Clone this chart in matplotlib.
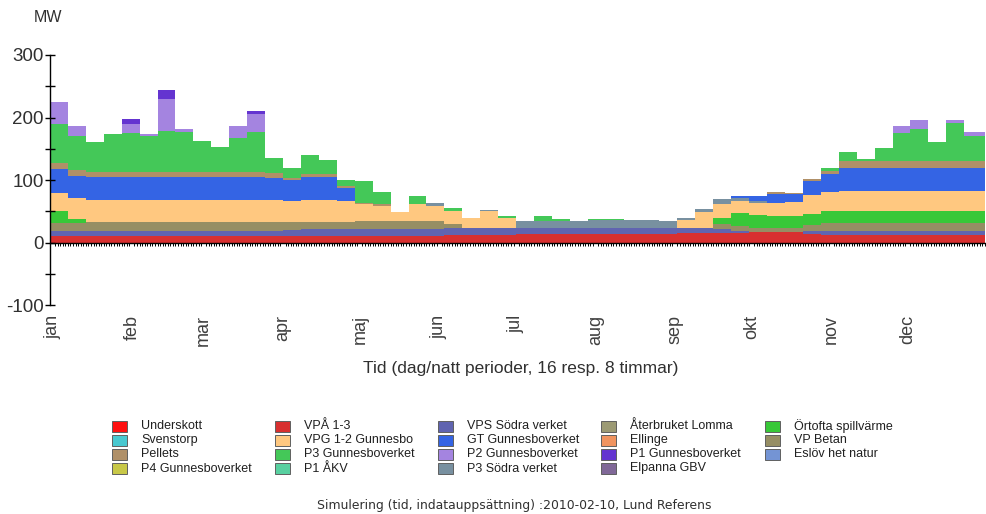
import numpy as np
import matplotlib
matplotlib.use("Agg")
import matplotlib.pyplot as plt
from matplotlib import font_manager
from matplotlib.patches import Rectangle

# weekly production per unit (MW), stacked bottom to top
vpa_1_3 = [10, 10, 10, 10, 10, 10, 10, 10, 10, 10, 10, 10, 10, 10, 11, 11, 11, 11, 11, 11, 11, 11, 12, 12, 12, 12,
           14, 14, 14, 14, 14, 14, 14, 14, 14, 15, 15, 15, 15, 17, 17, 17, 13, 12, 12, 12, 12, 12, 12, 12, 12, 12]
vps_sodra = [9, 9, 9, 9, 9, 9, 9, 9, 9, 9, 9, 9, 9, 10, 10, 10, 10, 11, 11, 11, 11, 11, 12, 12, 12, 12,
             9, 9, 9, 9, 9, 9, 9, 9, 9, 9, 9, 7, 4, 0, 0, 0, 5, 7, 7, 7, 7, 7, 7, 7, 7, 7]
vp_betan = [13, 13, 14, 14, 14, 14, 14, 14, 14, 14, 14, 14, 14, 13, 12, 12, 12, 12, 12, 12, 12, 12, 5, 0, 0, 0,
            0, 0, 0, 0, 0, 0, 0, 0, 0, 0, 0, 8, 8, 7, 7, 7, 10, 13, 13, 13, 13, 13, 13, 13, 13, 13]
ortofta = [18, 6, 0, 0, 0, 0, 0, 0, 0, 0, 0, 0, 0, 0, 0, 0, 0, 0, 0, 0, 0, 0, 0, 0, 0, 0,
           0, 0, 0, 0, 0, 0, 0, 0, 0, 0, 0, 10, 20, 20, 19, 19, 18, 19, 19, 19, 19, 19, 19, 19, 19, 19]
vpg_1_2 = [30, 33, 35, 35, 35, 35, 35, 35, 35, 35, 35, 35, 35, 33, 35, 35, 34, 27, 25, 15, 27, 24, 22, 16, 26, 16,
           0, 0, 0, 0, 0, 0, 0, 0, 0, 12, 25, 22, 20, 20, 20, 22, 30, 30, 32, 32, 32, 32, 32, 32, 32, 32]
p3_sodra = [0, 0, 0, 0, 0, 0, 0, 0, 0, 0, 0, 0, 0, 0, 0, 0, 0, 0, 0, 0, 0, 6, 0, 0, 2, 0,
            12, 12, 12, 12, 13, 13, 13, 13, 12, 3, 5, 8, 5, 3, 0, 0, 0, 0, 0, 0, 0, 0, 0, 0, 0, 0]
gt_gbv = [37, 36, 37, 37, 37, 37, 37, 37, 37, 37, 37, 37, 36, 34, 37, 37, 20, 0, 0, 0, 0, 0, 0, 0, 0, 0,
          0, 0, 0, 0, 0, 0, 0, 0, 0, 0, 0, 0, 3, 8, 15, 12, 22, 28, 37, 37, 37, 37, 37, 37, 37, 37]
pellets = [10, 9, 8, 8, 8, 8, 8, 8, 8, 8, 8, 8, 7, 4, 5, 5, 3, 3, 2, 0, 0, 0, 0, 0, 0, 0,
           0, 0, 0, 0, 0, 0, 0, 0, 0, 0, 0, 0, 0, 0, 3, 3, 4, 5, 11, 11, 11, 11, 11, 11, 11, 11]
p3_gbv = [63, 55, 48, 60, 62, 58, 66, 64, 50, 40, 55, 64, 25, 15, 30, 22, 10, 35, 20, 0, 13, 0, 4, 0, 0, 2,
          0, 8, 3, 0, 2, 1, 0, 0, 0, 0, 0, 0, 0, 0, 0, 0, 0, 5, 14, 2, 20, 45, 50, 30, 60, 40]
p2_gbv = [35, 15, 0, 0, 14, 3, 50, 5, 0, 0, 18, 28, 0, 0, 0, 0, 0, 0, 0, 0, 0, 0, 0, 0, 0, 0,
          0, 0, 0, 0, 0, 0, 0, 0, 0, 0, 0, 0, 0, 0, 0, 0, 0, 0, 0, 0, 0, 10, 15, 0, 5, 6]
p1_gbv = [0, 0, 0, 0, 8, 0, 15, 0, 0, 0, 0, 5, 0, 0, 0, 0, 0, 0, 0, 0, 0, 0, 0, 0, 0, 0,
          0, 0, 0, 0, 0, 0, 0, 0, 0, 0, 0, 0, 0, 0, 0, 0, 0, 0, 0, 0, 0, 0, 0, 0, 0, 0]

months = ["jan", "feb", "mar", "apr", "maj", "jun", "jul", "aug", "sep", "okt", "nov", "dec"]
month_days = [31, 28, 31, 30, 31, 30, 31, 31, 30, 31, 30, 31]

legend_names = [
    "Underskott", "Svenstorp", "Pellets", "P4 Gunnesboverket",
    "VPÅ 1-3", "VPG 1-2 Gunnesbo", "P3 Gunnesboverket", "P1 ÅKV",
    "VPS Södra verket", "GT Gunnesboverket", "P2 Gunnesboverket", "P3 Södra verket",
    "Återbruket Lomma", "Ellinge", "P1 Gunnesboverket", "Elpanna GBV",
    "Örtofta spillvärme", "VP Betan", "Eslöv het natur",
]
colors = {
    "Underskott": "#ff1010", "Svenstorp": "#48c8d0", "Pellets": "#b09068", "P4 Gunnesboverket": "#c8c848",
    "VPÅ 1-3": "#d83030", "VPG 1-2 Gunnesbo": "#ffc880", "P3 Gunnesboverket": "#44c858", "P1 ÅKV": "#58d0a0",
    "VPS Södra verket": "#6064b0", "GT Gunnesboverket": "#3464e4", "P2 Gunnesboverket": "#a484e0",
    "P3 Södra verket": "#7890a0", "Återbruket Lomma": "#9c9a74", "Ellinge": "#f09460",
    "P1 Gunnesboverket": "#6434d0", "Elpanna GBV": "#806898", "Örtofta spillvärme": "#38c838",
    "VP Betan": "#968e64", "Eslöv het natur": "#7494d4",
}

stack = [
    ("VPÅ 1-3", vpa_1_3), ("VPS Södra verket", vps_sodra), ("VP Betan", vp_betan),
    ("Örtofta spillvärme", ortofta), ("VPG 1-2 Gunnesbo", vpg_1_2), ("P3 Södra verket", p3_sodra),
    ("GT Gunnesboverket", gt_gbv), ("Pellets", pellets), ("P3 Gunnesboverket", p3_gbv),
    ("P2 Gunnesboverket", p2_gbv), ("P1 Gunnesboverket", p1_gbv),
]

installed = {f.name for f in font_manager.fontManager.ttflist}
main_font = "Liberation Sans" if "Liberation Sans" in installed else "DejaVu Sans"
plt.rcParams["font.family"] = [main_font, "DejaVu Sans"]
plt.rcParams["axes.unicode_minus"] = False

fig = plt.figure(figsize=(9.86, 5.14), dpi=100)
ax = fig.add_axes([0.0507, 0.4066, 0.948, 0.4864])

edges = np.append(np.arange(0, 358, 7), 365)
base = np.zeros(len(vpa_1_3))
for name, vals in stack:
    vals = np.asarray(vals, dtype=float)
    top = base + vals
    ax.fill_between(edges, np.append(base, base[-1]), np.append(top, top[-1]),
                    step="post", color=colors[name], linewidth=0)
    base = top

ax.set_xlim(0, 365)
ax.set_ylim(-100, 300)
for side in ("top", "right"):
    ax.spines[side].set_visible(False)
ax.spines["bottom"].set_position(("data", 0))
ax.spines["bottom"].set_linewidth(1.0)
ax.spines["left"].set_linewidth(1.0)

starts = np.concatenate([[0], np.cumsum(month_days)[:-1]]) + 1
ax.set_xticks(starts, months, rotation=90, fontsize=13, va="top")
ax.set_xticks(np.arange(0, 366, 1), minor=True)
ax.tick_params(axis="x", which="major", length=0, pad=52, labelcolor="#404040")
ax.tick_params(axis="x", which="minor", length=2.5, width=0.7, direction="out")

ax.set_yticks([-100, 0, 100, 200, 300])
ax.set_yticks([-50, 50, 150, 250], minor=True)
ax.tick_params(axis="y", which="both", direction="inout", length=7, width=1.0)
ax.tick_params(axis="y", which="major", labelsize=13.5, pad=1, labelcolor="#303030")

fig.text(0.049, 0.965, "MW", ha="center", va="center", fontsize=11.5, color="#303030")
fig.text(0.5285, 0.284, "Tid (dag/natt perioder, 16 resp. 8 timmar)", ha="center", va="center",
         fontsize=12.5, color="#303030")

# legend grid, filled column by column
col_x = [112, 275, 438, 601, 765]
row_y = [426, 440, 454, 468.5]
W, H = 986, 514
for i, name in enumerate(legend_names):
    cx, ry = col_x[i // 4], row_y[i % 4]
    fig.add_artist(Rectangle((cx / W, 1 - (ry + 5.5) / H), 15 / W, 11 / H, transform=fig.transFigure,
                             facecolor=colors[name], edgecolor="#606060", linewidth=0.7))
    fig.text((cx + 29) / W, 1 - ry / H, name, ha="left", va="center", fontsize=9, color="#202020")

fig.text(0.522, 1 - 506 / H, "Simulering (tid, indatauppsättning) :2010-02-10, Lund Referens",
         ha="center", va="center", fontsize=8.9, family="DejaVu Sans", color="#303030")

fig.savefig("out.png", dpi=100)
